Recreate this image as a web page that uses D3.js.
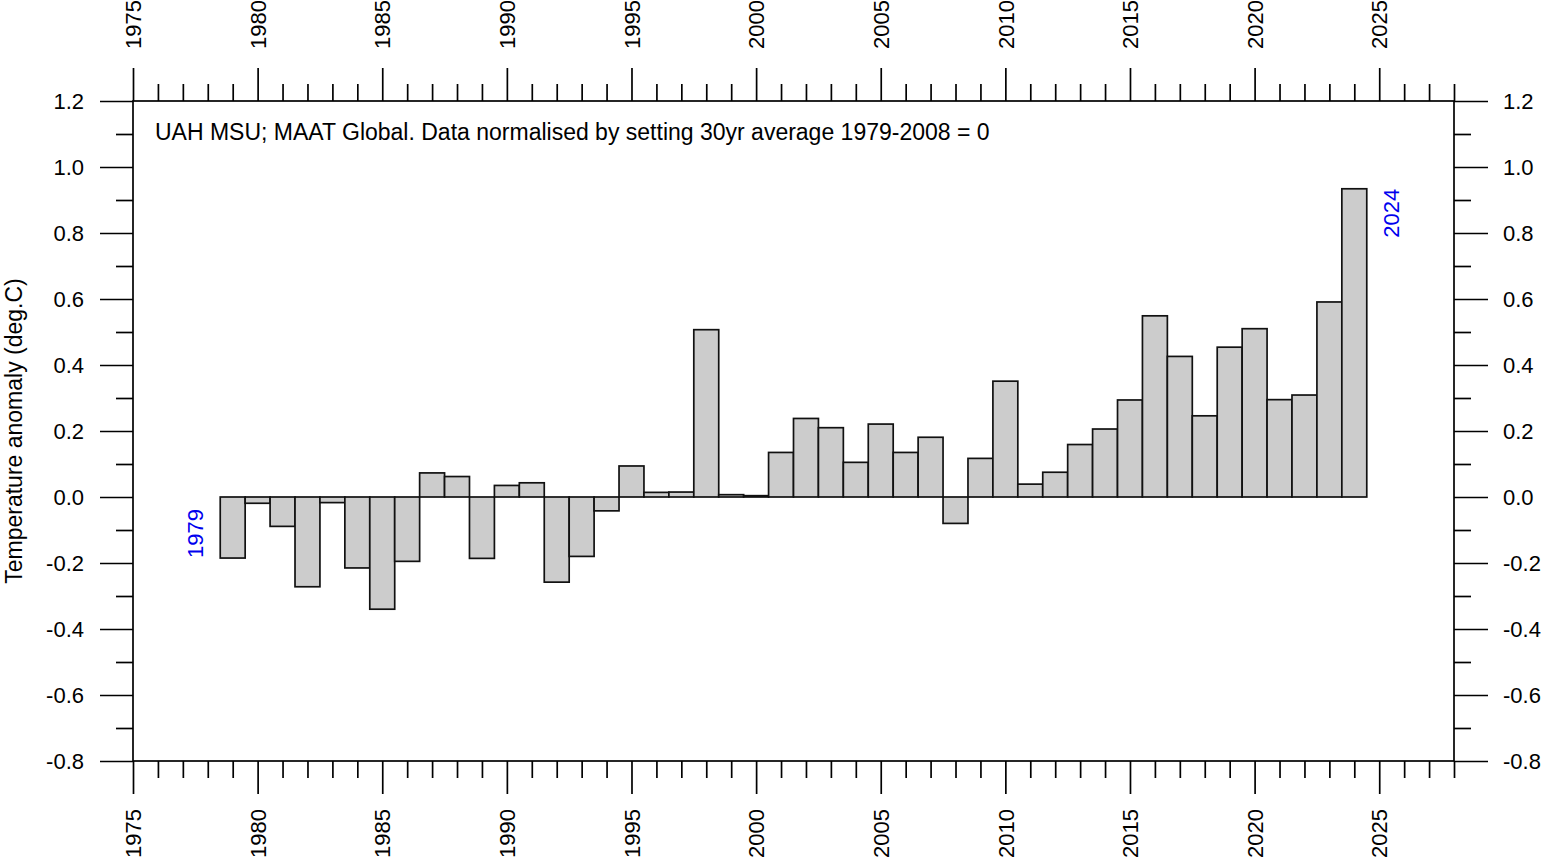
<!DOCTYPE html>
<html>
<head>
<meta charset="utf-8">
<script src="https://cdn.jsdelivr.net/npm/d3@7/dist/d3.min.js"></script>
<style>
  html, body { margin: 0; padding: 0; background: #fff; overflow: hidden; }
  svg { display: block; font-family: "Liberation Sans", Arial, sans-serif; }
</style>
</head>
<body>
<svg id="chart" width="1544" height="862"></svg>
<script>
// ---- Data ----
const years = [1979,1980,1981,1982,1983,1984,1985,1986,1987,1988,1989,1990,1991,1992,1993,1994,1995,1996,1997,1998,1999,2000,2001,2002,2003,2004,2005,2006,2007,2008,2009,2010,2011,2012,2013,2014,2015,2016,2017,2018,2019,2020,2021,2022,2023,2024];
const anomalies = [-0.185,-0.019,-0.089,-0.272,-0.017,-0.215,-0.340,-0.195,0.073,0.062,-0.186,0.035,0.043,-0.258,-0.180,-0.042,0.094,0.014,0.015,0.507,0.007,0.004,0.135,0.238,0.210,0.105,0.221,0.135,0.181,-0.080,0.117,0.351,0.039,0.075,0.159,0.206,0.294,0.549,0.426,0.246,0.454,0.510,0.295,0.309,0.591,0.934];
const yMajorTicks = [-0.8,-0.6,-0.4,-0.2,0.0,0.2,0.4,0.6,0.8,1.0,1.2];
const yMinorTicks = [-0.7,-0.5,-0.3,-0.1,0.1,0.3,0.5,0.7,0.9,1.1];
const xMajorTicks = [1975,1980,1985,1990,1995,2000,2005,2010,2015,2020,2025];
const xMinorTicks = d3.range(1976, 2029).filter(y => y % 5 !== 0);
const annotation = "UAH MSU; MAAT Global. Data normalised by setting 30yr average 1979-2008 = 0";
const yTitle = "Temperature anomaly (deg.C)";
const firstLabel = "1979", lastLabel = "2024";

// ---- Layout ----
const L = 133, R = 1454, T = 101, B = 761;
const svg = d3.select("#chart");
const x = d3.scaleLinear().domain([1975, 2028]).range([L, R]);
const y = d3.scaleLinear().domain([-0.8, 1.2]).range([B, T]);
const fmt = (d) => d3.format(".1f")(d).replace("\u2212", "-");
const FS = 22;

// Bars
svg.append("g").selectAll("rect").data(years).join("rect")
  .attr("x", (d) => x(d - 0.5))
  .attr("width", (d) => x(d + 0.5) - x(d - 0.5))
  .attr("y", (d, i) => Math.min(y(anomalies[i]), y(0)))
  .attr("height", (d, i) => Math.abs(y(anomalies[i]) - y(0)))
  .attr("fill", "#cccccc")
  .attr("stroke", "#111")
  .attr("stroke-width", 1.7);

// Frame
svg.append("rect").attr("x", L).attr("y", T).attr("width", R - L).attr("height", B - T)
  .attr("fill", "none").attr("stroke", "#000").attr("stroke-width", 1.7);

function styleAxis(g) {
  g.select(".domain").remove();
  g.selectAll("line").attr("stroke", "#000").attr("stroke-width", 1.7);
  g.selectAll("text").attr("fill", "#000").style("font-size", FS + "px").style("font-family", '"Liberation Sans", Arial, sans-serif');
}

// Left axis
svg.append("g").attr("transform", `translate(${L},0)`)
  .call(d3.axisLeft(y).tickValues(yMajorTicks).tickFormat(fmt).tickSize(33).tickPadding(16))
  .call(styleAxis);
svg.append("g").attr("transform", `translate(${L},0)`)
  .call(d3.axisLeft(y).tickValues(yMinorTicks).tickFormat("").tickSize(17))
  .call(styleAxis);
// Right axis
svg.append("g").attr("transform", `translate(${R},0)`)
  .call(d3.axisRight(y).tickValues(yMajorTicks).tickFormat(fmt).tickSize(34).tickPadding(15))
  .call(styleAxis);
svg.append("g").attr("transform", `translate(${R},0)`)
  .call(d3.axisRight(y).tickValues(yMinorTicks).tickFormat("").tickSize(17))
  .call(styleAxis);

// Top axis
const gTop = svg.append("g").attr("transform", `translate(0,${T})`)
  .call(d3.axisTop(x).tickValues(xMajorTicks).tickFormat(d3.format("d")).tickSize(33))
  .call(styleAxis);
gTop.selectAll("text").attr("transform", "rotate(-90)").attr("x", 52).attr("y", 0)
  .attr("dy", "0.35em").attr("text-anchor", "start");
svg.append("g").attr("transform", `translate(0,${T})`)
  .call(d3.axisTop(x).tickValues(xMinorTicks).tickFormat("").tickSize(17))
  .call(styleAxis);

// Bottom axis
const gBot = svg.append("g").attr("transform", `translate(0,${B})`)
  .call(d3.axisBottom(x).tickValues(xMajorTicks).tickFormat(d3.format("d")).tickSize(33))
  .call(styleAxis);
gBot.selectAll("text").attr("transform", "rotate(-90)").attr("x", -48).attr("y", 0)
  .attr("dy", "0.35em").attr("text-anchor", "end");
svg.append("g").attr("transform", `translate(0,${B})`)
  .call(d3.axisBottom(x).tickValues(xMinorTicks).tickFormat("").tickSize(17))
  .call(styleAxis);

// Annotation
svg.append("text").attr("x", 155).attr("y", 140)
  .style("font-size", "23px").attr("fill", "#000").text(annotation);

// Y title
svg.append("text").attr("transform", `translate(22,${(T + B) / 2}) rotate(-90)`)
  .attr("text-anchor", "middle").style("font-size", "23px").attr("fill", "#000").text(yTitle);

// Blue labels
const v0 = anomalies[0], vN = anomalies[anomalies.length - 1];
svg.append("text").attr("transform", `translate(${x(years[0] - 1.5)},${y(v0)}) rotate(-90)`)
  .attr("text-anchor", "start").attr("dy", "0.35em").style("font-size", FS + "px")
  .attr("fill", "#0000ee").text(firstLabel);
svg.append("text").attr("transform", `translate(${x(years[years.length - 1] + 1.5)},${y(vN)}) rotate(-90)`)
  .attr("text-anchor", "end").attr("dy", "0.35em").style("font-size", FS + "px")
  .attr("fill", "#0000ee").text(lastLabel);
</script>
</body>
</html>
